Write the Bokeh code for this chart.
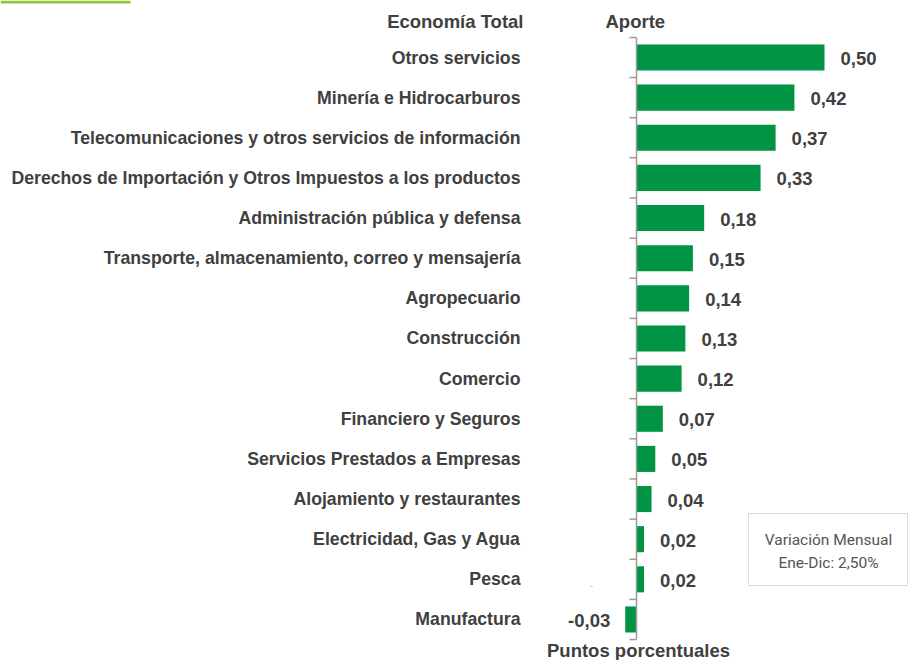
from bokeh.plotting import figure
from bokeh.models import ColumnDataSource, Range1d, Label, BoxAnnotation
from bokeh.core.properties import value
from bokeh.embed import file_html
from bokeh.resources import INLINE

categories = [
    "Otros servicios",
    "Minería e Hidrocarburos",
    "Telecomunicaciones y otros servicios de información",
    "Derechos de Importación y Otros Impuestos a los productos",
    "Administración pública y defensa",
    "Transporte, almacenamiento, correo y mensajería",
    "Agropecuario",
    "Construcción",
    "Comercio",
    "Financiero y Seguros",
    "Servicios Prestados a Empresas",
    "Alojamiento y restaurantes",
    "Electricidad, Gas y Agua",
    "Pesca",
    "Manufactura",
]
aporte = [0.50, 0.42, 0.37, 0.33, 0.18, 0.15, 0.14, 0.13, 0.12, 0.07, 0.05, 0.04, 0.02, 0.02, -0.03]

header_left = "Economía Total"
header_right = "Aporte"
x_title = "Puntos porcentuales"
note_lines = ["Variación Mensual", "Ene-Dic: 2,50%"]

W, H = 909, 660
X0, XS = 636.0, 376.0     # pixel of zero, pixels per unit
Y0, YS = 57.0, 40.14      # pixel of first row centre, pixels per row

BAR = "#009444"
TXT = "#404040"
FONT = "Liberation Sans"

idx = list(range(len(categories)))
labels = [("%.2f" % v).replace(".", ",") for v in aporte]
pos = [v >= 0 for v in aporte]

src_pos = ColumnDataSource(dict(
    y=[i for i in idx if pos[i]],
    v=[aporte[i] for i in idx if pos[i]],
    lab=[labels[i] for i in idx if pos[i]],
))
src_neg = ColumnDataSource(dict(
    y=[i for i in idx if not pos[i]],
    v=[aporte[i] for i in idx if not pos[i]],
    lab=[labels[i] for i in idx if not pos[i]],
))
src_cat = ColumnDataSource(dict(y=idx, x=[0] * len(idx), cat=categories))

p = figure(width=W, height=H, output_backend="svg", toolbar_location=None,
           x_axis_type=None, y_axis_type=None,
           x_range=Range1d(-X0 / XS, (W - X0) / XS),
           y_range=Range1d((H - Y0) / YS, -Y0 / YS),
           min_border=0, outline_line_color=None)
p.xgrid.visible = False
p.ygrid.visible = False
p.background_fill_color = "white"
p.border_fill_color = "white"

# bars
allsrc = ColumnDataSource(dict(y=idx, v=aporte))
p.hbar(y="y", left=0, right="v", height=0.65, source=allsrc,
       fill_color=BAR, line_color=None)

# axis line and ticks at category boundaries
n = len(categories)
bounds = [i - 0.5 for i in range(n + 1)]
tick_len = 7.0 / XS
p.segment(x0=[0], y0=[bounds[0]], x1=[0], y1=[bounds[-1]],
          line_color="#9a9a9a", line_width=1.5)
p.segment(x0=[-tick_len] * len(bounds), y0=bounds, x1=[0] * len(bounds), y1=bounds,
          line_color="#9a9a9a", line_width=1.5)

# category labels
p.text(x="x", y="y", text="cat", source=src_cat, x_offset=-116,
       text_align="right", text_baseline="middle",
       text_font=value(FONT), text_font_style="bold", text_font_size="17.7px",
       text_color=TXT)

# value labels
p.text(x="v", y="y", text="lab", source=src_pos, x_offset=16, y_offset=1,
       text_align="left", text_baseline="middle",
       text_font=value(FONT), text_font_style="bold", text_font_size="18.5px",
       text_color=TXT)
p.text(x="v", y="y", text="lab", source=src_neg, x_offset=-15, y_offset=1,
       text_align="right", text_baseline="middle",
       text_font=value(FONT), text_font_style="bold", text_font_size="18.5px",
       text_color=TXT)

def lab(text, x, y, align="left", size="18.5px", style="bold", color=TXT, font=FONT):
    p.add_layout(Label(x=x, y=y, x_units="screen", y_units="screen", text=text,
                       text_align=align, text_baseline="middle",
                       text_font=font, text_font_size=size,
                       text_font_style=style, text_color=color))

lab(header_left, 523, H - 21, align="right")
lab(header_right, 605, H - 21, align="left")
lab(x_title, 638, 10, align="center")

# note box
p.add_layout(BoxAnnotation(left=748, right=907, top=H - 513, bottom=H - 585,
                           left_units="screen", right_units="screen",
                           top_units="screen", bottom_units="screen",
                           fill_color=None, line_color="#8c8c8c", line_width=1))
lab(note_lines[0], 828, H - 539, align="center", size="15.5px", style="normal",
    color="#555555", font="Roboto")
lab(note_lines[1], 828, H - 562, align="center", size="15.5px", style="normal",
    color="#555555", font="Roboto")

# decorative top rule
p.add_layout(BoxAnnotation(left=0, right=130, top=H, bottom=H - 3,
                           left_units="screen", right_units="screen",
                           top_units="screen", bottom_units="screen",
                           fill_color="#8DC63F", fill_alpha=1, line_color=None))
# tiny stray mark
lab("-", 591, H - 585, align="center", size="9px", style="normal", color="#aaaaaa")

open("out.html", "w").write(file_html(p, INLINE))
